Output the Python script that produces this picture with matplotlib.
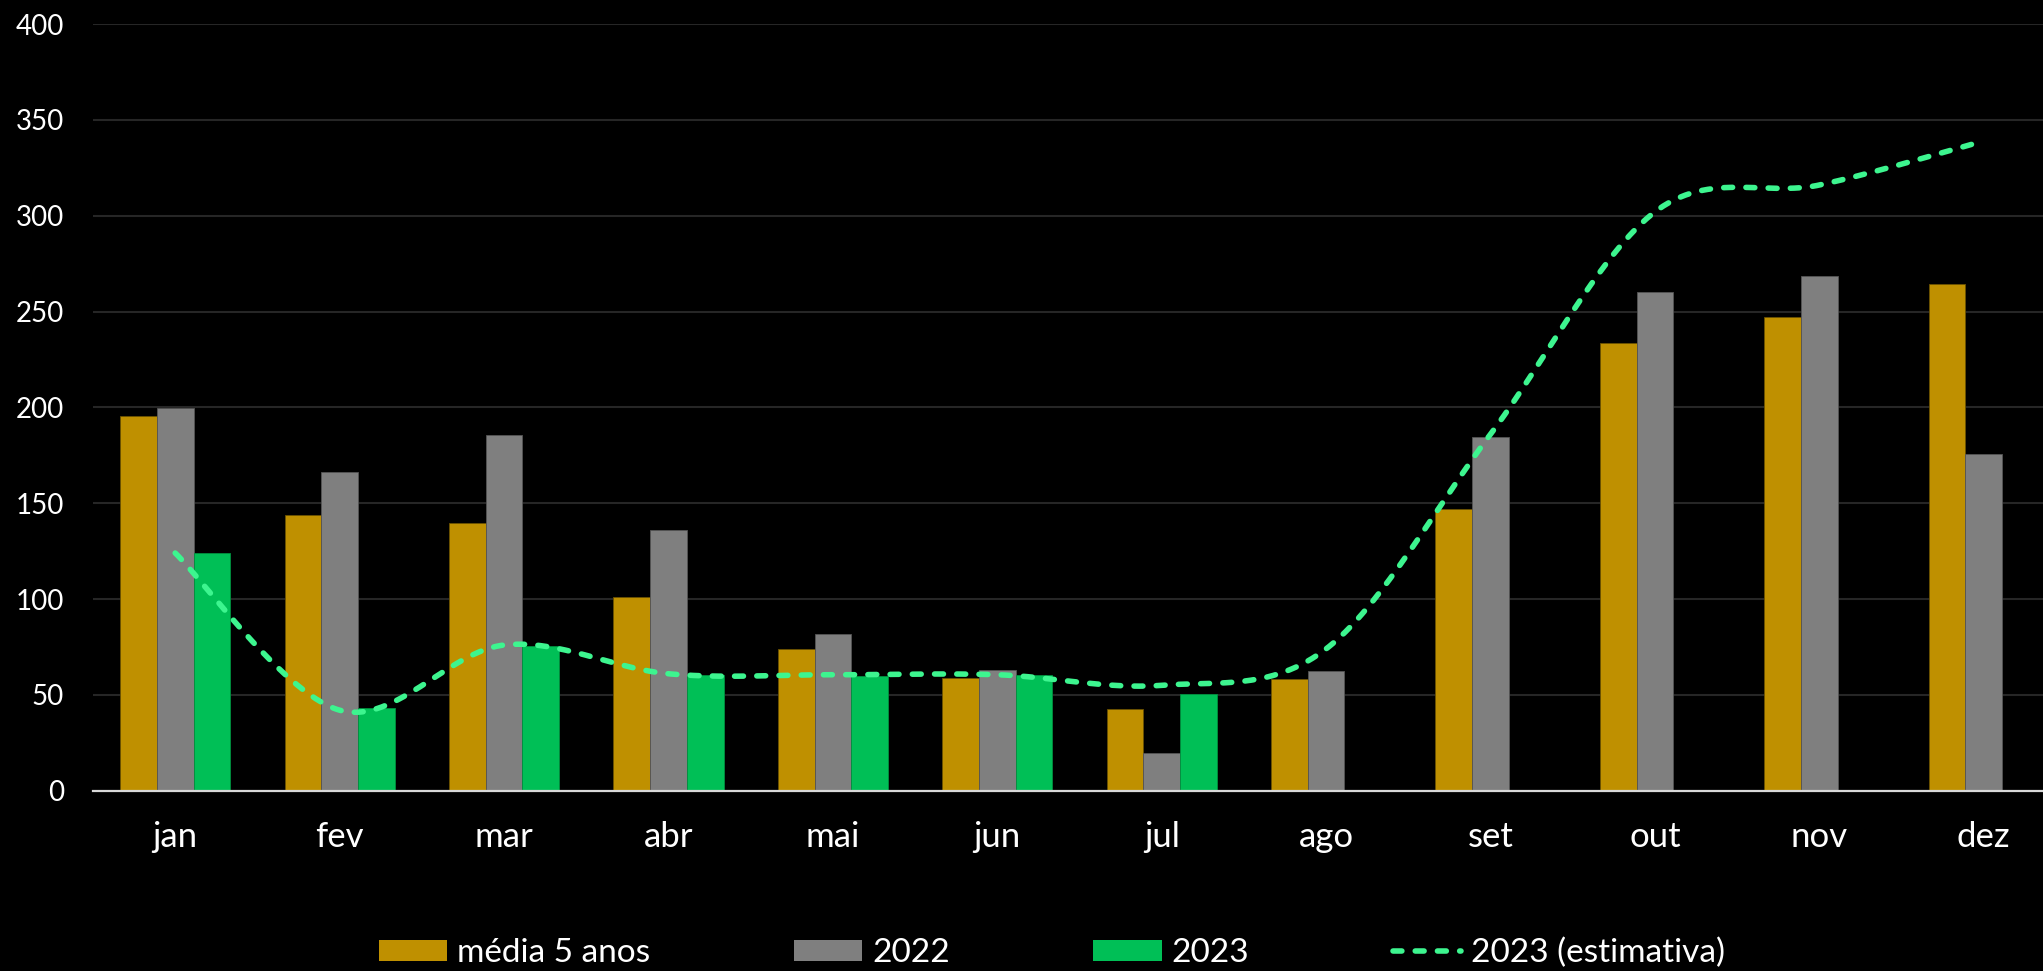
import numpy as np
import matplotlib
matplotlib.use("Agg")
import matplotlib.pyplot as plt
from matplotlib.patches import Patch
from matplotlib.lines import Line2D

# ---- data ----
months = ["jan", "fev", "mar", "abr", "mai", "jun", "jul", "ago", "set", "out", "nov", "dez"]
media_5_anos = [195.5, 143.8, 139.9, 100.9, 73.8, 58.8, 42.6, 58.1, 147.0, 233.7, 247.3, 264.5]
ano_2022 = [199.5, 166.4, 185.8, 136.0, 81.6, 62.8, 19.5, 62.6, 184.7, 260.0, 268.7, 175.7]
ano_2023 = [124.0, 43.2, 75.6, 60.4, 60.0, 60.2, 50.4, np.nan, np.nan, np.nan, np.nan, np.nan]
estimativa_2023 = [124.0, 42.0, 76.0, 61.0, 60.5, 60.5, 55.0, 74.0, 186.0, 302.0, 316.0, 339.0]
yticks = [0, 50, 100, 150, 200, 250, 300, 350, 400]

GOLD = "#BF9000"
GREY = "#7F7F7F"
GREEN = "#00BF56"
MINT = "#3DF58F"

plt.rcParams["font.family"] = ["Lato", "DejaVu Sans"]

W, H = 2043, 971
fig = plt.figure(figsize=(W / 100, H / 100), dpi=100, facecolor="black")
left_px, right_px, top_px, zero_px = 93, 2066, 24, 790.7
ax = fig.add_axes([left_px / W, 1 - zero_px / H, (right_px - left_px) / W, (zero_px - top_px) / H])
ax.set_facecolor("black")

x = np.arange(len(months))
bw = 0.2232
ax.bar(x - bw, media_5_anos, bw, color=GOLD, edgecolor="#6b5200", linewidth=0.6, zorder=2)
ax.bar(x, ano_2022, bw, color=GREY, edgecolor="#555555", linewidth=0.6, zorder=2)
ax.bar(x + bw, ano_2023, bw, color=GREEN, edgecolor="#00903f", linewidth=0.6, zorder=2)

# smoothed (Catmull-Rom style bezier, like Excel smoothing)
pts = np.column_stack([x.astype(float), np.array(estimativa_2023)])
ext = np.vstack([pts[0], pts, pts[-1]])
xs, ys = [], []
t = np.linspace(0, 1, 60)
for i in range(len(pts) - 1):
    p0 = ext[i + 1]
    p3 = ext[i + 2]
    p1 = p0 + (ext[i + 2] - ext[i]) / 6.0
    p2 = p3 - (ext[i + 3] - ext[i + 1]) / 6.0
    seg = ((1 - t) ** 3)[:, None] * p0 + (3 * (1 - t) ** 2 * t)[:, None] * p1 \
        + (3 * (1 - t) * t ** 2)[:, None] * p2 + (t ** 3)[:, None] * p3
    xs.extend(seg[:, 0])
    ys.extend(seg[:, 1])
ax.plot(xs, ys, color=MINT, lw=4.0, linestyle=(0, (1.6, 2.4)),
        dash_capstyle="round", zorder=3)

ax.set_xlim(-0.5, 11.5)
ax.set_ylim(0, 400)
ax.set_yticks(yticks)
ax.set_yticklabels([str(v) for v in yticks])
ax.set_xticks(x)
ax.set_xticklabels(months)
ax.tick_params(axis="y", length=0, pad=21, labelsize=20, colors="white")
ax.tick_params(axis="x", length=0, pad=22, labelsize=25, colors="white")
ax.grid(axis="y", color="#262626", lw=1.5, zorder=0)
ax.set_axisbelow(True)
for s in ["left", "right", "top"]:
    ax.spines[s].set_visible(False)
ax.spines["bottom"].set_color("#d9d9d9")
ax.spines["bottom"].set_linewidth(1.6)
ax.spines["bottom"].set_zorder(4)

handles = [
    Patch(facecolor=GOLD, edgecolor="none", label="média 5 anos"),
    Patch(facecolor=GREY, edgecolor="none", label="2022"),
    Patch(facecolor=GREEN, edgecolor="none", label="2023"),
    Line2D([0], [0], color=MINT, lw=4.0, linestyle=(0, (1.6, 2.4)),
           dash_capstyle="round", label="2023 (estimativa)"),
]
leg = fig.legend(handles=handles, loc="center", bbox_to_anchor=(1052 / W, 1 - 953 / H),
                 ncol=4, frameon=False, fontsize=24, labelcolor="white",
                 handlelength=2.05, handleheight=0.63, handletextpad=0.3,
                 columnspacing=4.3, borderpad=0, borderaxespad=0)

fig.savefig("out.png", dpi=100, facecolor="black")
